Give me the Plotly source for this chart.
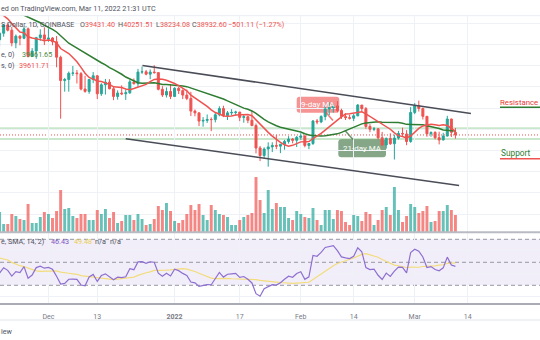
import pandas as pd
import plotly.graph_objects as go

W, H = 540, 340

# ---------------- data (BTC/USD daily, COINBASE) ----------------
start_date = "2021-11-19"
end_date = "2022-03-11"
opens = [56900, 58120, 59700, 58700, 56300, 57570, 57180, 58960, 53730, 54760, 57290, 57810,
         56990, 57230, 56510, 53600, 49200, 49400, 50580, 50620, 50500, 47600, 47150, 49400,
         50100, 46700, 48400, 48900, 47650, 46200, 46850, 46700, 46900, 48950, 48600, 50800,
         50850, 50400, 50800, 50700, 47550, 46470, 47140, 46200, 47730, 47300, 46450, 45830,
         43430, 43100, 41550, 41680, 41860, 41830, 42740, 43920, 42590, 43100, 43180, 43250,
         42250, 42380, 41700, 40700, 36470, 35050, 36280, 36680, 36960, 36820, 37170, 37710,
         38170, 37920, 38480, 38740, 36950, 37320, 41570, 41400, 42410, 43850, 44080, 44400,
         43550, 42400, 42200, 42080, 42550, 44570, 43900, 40540, 40000, 40100, 38400, 37050,
         38280, 37280, 38350, 39220, 39120, 37700, 43180, 44420, 43920, 42450, 39150, 39400,
         38420, 37990, 38730, 41940, 39431.40]
highs = [58370, 59860, 60000, 59300, 57880, 57740, 59400, 59200, 55320, 57440, 58870, 59250,
         59050, 57400, 57600, 53900, 49700, 50900, 51950, 51200, 50800, 50100, 49500, 50800,
         50200, 48700, 49500, 49450, 48000, 47350, 48300, 47500, 49350, 49600, 51400, 51850,
         51200, 51300, 52100, 50700, 48150, 47900, 48550, 47950, 47990, 47550, 47500, 47070,
         43750, 43150, 42300, 42800, 42250, 43100, 44350, 44450, 43450, 43800, 43500, 43250,
         42700, 42580, 43500, 41100, 36850, 36600, 37550, 37550, 38950, 37250, 38000, 38700,
         38350, 38750, 39250, 38850, 37400, 41750, 41950, 42650, 44500, 45100, 44800, 45300,
         43900, 43000, 42750, 42900, 44770, 44570, 44200, 40980, 40450, 40150, 39500, 38450,
         39250, 39000, 39700, 40300, 39850, 44200, 44950, 45400, 44100, 42500, 39600, 39650,
         39550, 39350, 42550, 42000, 40251.51]
lows = [55600, 57470, 58470, 55660, 55300, 55850, 57000, 53570, 53650, 53310, 56700, 55880,
        56500, 55850, 51700, 42000, 47100, 47100, 50060, 48650, 47350, 46900, 46700, 48700,
        45700, 46300, 46550, 47550, 45500, 45600, 46450, 45550, 46650, 48450, 47950, 50450,
        50200, 49450, 50500, 47350, 46100, 46000, 45700, 46200, 46650, 45700, 45500, 42500,
        42450, 40600, 40500, 41200, 39650, 41300, 42450, 42300, 41750, 42650, 42600, 41550,
        41250, 41150, 40600, 35450, 34000, 34600, 32950, 35700, 36250, 35500, 36150, 37300,
        37350, 36650, 38000, 36600, 36250, 37050, 40950, 41150, 41700, 42700, 43150, 43200,
        41950, 41750, 41850, 41550, 42450, 43350, 40100, 39450, 39650, 38050, 36800, 36350,
        37050, 34300, 38050, 38600, 37000, 37450, 42850, 43350, 41850, 38600, 38600, 38100,
        37150, 37900, 38650, 38550, 38234.08]
closes = [58120, 59700, 58700, 56300, 57570, 57180, 58960, 53730, 54760, 57290, 57810, 56990,
          57230, 56510, 53600, 49200, 49400, 50580, 50620, 50500, 47600, 47150, 49400, 50100,
          46700, 48400, 48900, 47650, 46200, 46850, 46700, 46900, 48950, 48600, 50800, 50850,
          50400, 50800, 50700, 47550, 46470, 47140, 46200, 47730, 47300, 46450, 45830, 43430,
          43100, 41550, 41680, 41860, 41830, 42740, 43920, 42590, 43100, 43180, 43250, 42250,
          42380, 41700, 40700, 36470, 35050, 36280, 36680, 36960, 36820, 37170, 37710, 38170,
          37920, 38480, 38740, 36950, 37320, 41570, 41400, 42410, 43850, 44080, 44400, 43550,
          42400, 42200, 42080, 42550, 44570, 43900, 40540, 40000, 40100, 38400, 37050, 38280,
          37280, 38350, 39220, 39120, 37700, 43180, 44420, 43920, 42450, 39150, 39400, 38420,
          37990, 38730, 41940, 39431.40, 38932.60]
# volume in thousand BTC
volumes = [20, 8, 8, 18, 16, 13, 12, 28, 9, 9, 15, 20, 18, 14, 21, 42, 23, 24, 16, 14,
           18, 18, 12, 12, 22, 18, 23, 14, 20, 9, 11, 17, 17, 12, 18, 13, 7, 8, 13, 26,
           22, 29, 21, 11, 9, 12, 18, 27, 22, 28, 17, 12, 27, 22, 18, 17, 15, 7, 7, 12,
           15, 17, 19, 55, 32, 19, 42, 23, 29, 25, 25, 14, 12, 21, 18, 15, 14, 24, 12, 7,
           22, 22, 13, 22, 21, 10, 7, 17, 16, 11, 20, 18, 7, 12, 22, 25, 17, 45, 22, 10,
           16, 28, 25, 19, 21, 26, 10, 11, 21, 21, 27, 22, 17]
# earlier closes (1 Oct - 18 Nov 2021, off-screen) that warm up the MA / RSI
warmup_closes = [48150, 47650, 48200, 49230, 51490, 55340, 53800, 53950, 54950, 54680, 57490,
                 56000, 57370, 57360, 61670, 60880, 61530, 62010, 64280, 66000, 62210, 60690,
                 61300, 60860, 63080, 60330, 58460, 60590, 62250, 61890, 61320, 61000, 63230,
                 62940, 61440, 61010, 61530, 63300, 67550, 66950, 64930, 64830, 64160, 64400,
                 65500, 63600, 60340, 60380, 56890]

tick_dates = ["2021-12-01", "2021-12-13", "2022-01-01", "2022-01-17", "2022-02-01",
              "2022-02-14", "2022-03-01", "2022-03-14", "2022-04-01"]
tick_labels = ["Dec", "13", "<b>2022</b>", "17", "Feb", "14", "Mar", "14", "Apr"]

# channel drawings: (days since first candle, price)
chan_upper_x = [35.1, 115.8]
chan_upper_p = [52040, 42980]
chan_lower_x = [31.0, 112.9]
chan_lower_p = [38230, 29400]
level_lines = [40190, 38170]

# ---------------- derived ----------------
dates = pd.date_range(start_date, end_date, freq="D")
idx = list(range(len(dates)))
t0 = dates[0]
tick_pos = [(pd.Timestamp(d) - t0).days for d in tick_dates]

allc = pd.Series(warmup_closes + closes, dtype=float)
n_w = len(warmup_closes)
ma9 = allc.rolling(9).mean().iloc[n_w:].tolist()
ma21 = allc.rolling(21).mean().iloc[n_w:].tolist()
delta = allc.diff()
gain = delta.clip(lower=0)
loss = -delta.clip(upper=0)
ag = gain.ewm(alpha=1 / 14, adjust=False).mean()
al = loss.ewm(alpha=1 / 14, adjust=False).mean()
rsi_all = 100 - 100 / (1 + ag / al)
rsi_ma_all = rsi_all.rolling(14).mean()
rsi = rsi_all.iloc[n_w:].tolist()
rsi_ma = rsi_ma_all.iloc[n_w:].tolist()

UP, DOWN = "#26a69a", "#ef5350"
vol_colors = ["rgba(38,166,154,0.7)" if c >= o else "rgba(239,83,80,0.7)"
              for o, c in zip(opens, closes)]

# pixel helpers for layout
def PX(x):
    return x / W

def PY(y):
    return 1 - y / H

PRICE_TOP, PRICE_BOT = 15.7, 232.0
RSI_TOP, RSI_BOT = 233.0, 303.4
px_per_k = 5.3
p_ref, y_ref = 40000, 129.3
price_range = [p_ref - (PRICE_BOT - y_ref) / px_per_k * 1000,
               p_ref + (y_ref - PRICE_TOP) / px_per_k * 1000]
rsi_per_px = 1 / 1.15
rsi_range = [50 - (RSI_BOT - 262.3) * rsi_per_px, 50 + (262.3 - RSI_TOP) * rsi_per_px]
x_range = [0.1, 0.1 + W / 4.07]

fig = go.Figure()
fig.add_trace(go.Bar(x=idx, y=volumes, marker=dict(color=vol_colors, line=dict(width=0)),
                     width=0.72, yaxis="y", hoverinfo="skip"))
fig.add_trace(go.Candlestick(x=idx, open=opens, high=highs, low=lows, close=closes,
                             increasing=dict(line=dict(color=UP, width=1), fillcolor=UP),
                             decreasing=dict(line=dict(color=DOWN, width=1), fillcolor=DOWN),
                             whiskerwidth=0, yaxis="y2"))
fig.add_trace(go.Scatter(x=idx, y=ma21, mode="lines", line=dict(color="#2e7d32", width=1.5),
                         yaxis="y2"))
fig.add_trace(go.Scatter(x=idx, y=ma9, mode="lines", line=dict(color="#ef5350", width=1.5),
                         yaxis="y2"))
fig.add_trace(go.Scatter(x=chan_upper_x, y=chan_upper_p, mode="lines",
                         line=dict(color="#4a4d57", width=1.6), yaxis="y2"))
fig.add_trace(go.Scatter(x=chan_lower_x, y=chan_lower_p, mode="lines",
                         line=dict(color="#4a4d57", width=1.6), yaxis="y2"))
fig.add_trace(go.Scatter(x=idx, y=rsi_ma, mode="lines", line=dict(color="#f3dc7c", width=1.2),
                         yaxis="y3"))
fig.add_trace(go.Scatter(x=idx, y=rsi, mode="lines", line=dict(color="#8e6fd0", width=1.2),
                         yaxis="y3"))

shapes = []
# RSI band and levels
shapes.append(dict(type="rect", xref="paper", yref="y3", x0=0, x1=1, y0=30, y1=70,
                   fillcolor="rgba(126,87,194,0.1)", line=dict(width=0), layer="below"))
for lv in (70, 50, 30):
    shapes.append(dict(type="line", xref="paper", yref="y3", x0=0, x1=1, y0=lv, y1=lv,
                       line=dict(color="#9598a1", width=1, dash="4px,3px"), layer="below"))
# horizontal levels
for lv in level_lines:
    shapes.append(dict(type="line", xref="paper", yref="y2", x0=0, x1=1, y0=lv, y1=lv,
                       line=dict(color="rgba(76,175,80,0.3)", width=2), layer="between"))
shapes.append(dict(type="line", xref="paper", yref="y2", x0=0, x1=1, y0=closes[-1], y1=closes[-1],
                   line=dict(color="#ef5350", width=1, dash="1px,2px"), layer="between"))
# pane separators
shapes.append(dict(type="line", xref="paper", yref="paper", x0=0, x1=1, y0=PY(232.3), y1=PY(232.3),
                   line=dict(color="#b8bbc2", width=2)))
shapes.append(dict(type="line", xref="paper", yref="paper", x0=0, x1=1, y0=PY(15.7), y1=PY(15.7),
                   line=dict(color="#e9ecf2", width=1)))
shapes.append(dict(type="line", xref="paper", yref="paper", x0=0, x1=1, y0=PY(320), y1=PY(320),
                   line=dict(color="#f0f2f6", width=2)))


def rrect(x0, y0, x1, y1, r):
    rx, ry = r / W, r / H
    a0, b0, a1, b1 = PX(x0), PY(y1), PX(x1), PY(y0)
    return (f"M {a0+rx},{b0} L {a1-rx},{b0} Q {a1},{b0} {a1},{b0+ry} L {a1},{b1-ry} "
            f"Q {a1},{b1} {a1-rx},{b1} L {a0+rx},{b1} Q {a0},{b1} {a0},{b1-ry} "
            f"L {a0},{b0+ry} Q {a0},{b0} {a0+rx},{b0} Z")


shapes.append(dict(type="path", xref="paper", yref="paper", path=rrect(296.7, 96.7, 339.3, 112.7, 3),
                   fillcolor="rgba(239,83,80,0.62)", line=dict(width=0), layer="between"))
shapes.append(dict(type="line", xref="paper", yref="paper", x0=PX(326), y0=PY(112.5), x1=PX(333),
                   y1=PY(120.5), line=dict(color="rgba(239,83,80,0.8)", width=1.5)))
shapes.append(dict(type="path", xref="paper", yref="paper", path=rrect(338.3, 139.3, 386, 157.3, 3),
                   fillcolor="rgba(67,120,70,0.65)", line=dict(width=0), layer="between"))
shapes.append(dict(type="line", xref="paper", yref="paper", x0=PX(353), y0=PY(139.5), x1=PX(345),
                   y1=PY(130.5), line=dict(color="rgba(67,120,70,0.8)", width=1.5)))
# Resistance / Support underlines
shapes.append(dict(type="line", xref="paper", yref="paper", x0=PX(500), x1=1, y0=PY(107.3), y1=PY(107.3),
                   line=dict(color="#2e7d32", width=1.6)))
shapes.append(dict(type="line", xref="paper", yref="paper", x0=PX(500), x1=1, y0=PY(158.7), y1=PY(158.7),
                   line=dict(color="#ef5350", width=1.6)))

FONT = "Roboto"
ann = []


def txt(x, y, s, color, size=7, anchor="left"):
    ann.append(dict(xref="paper", yref="paper", x=PX(x), y=PY(y), text=s, showarrow=False,
                    xanchor=anchor, yanchor="middle", font=dict(family=FONT, size=size, color=color)))


GREY = "#50535e"
RED = "#ef5350"
txt(-1, 8.3, "ed on TradingView.com, Mar 11, 2022 21:31 UTC", GREY, 7.2)
txt(-1, 25, "S Dollar, 1D, COINBASE", GREY, 7.2)
for xx, lab, val in [(78, "O", "39431.40"), (116, "H", "40251.51"), (154, "L", "38234.08"),
                     (190, "C", "38932.60")]:
    txt(xx, 25, f"<span style='color:{GREY}'>{lab}</span>{val}", RED, 7.2)
txt(226, 25, "\u2212501.11 (\u22121.27%)", RED, 7.2)
txt(-1, 54.5, "e, 0)", GREY, 7.2)
txt(19.5, 54.5, "39661.65", "#4c8c3f", 7.2)
txt(-1, 66, "s, 0)", GREY, 7.2)
txt(16.5, 66, "39611.71", RED, 7.2)
txt(-1, 241.5, "e, SMA, 14, 2)", GREY, 7.2)
txt(48.5, 241.5, "46.43", "#7e57c2", 7.2)
txt(71.5, 241.5, "49.48", "#e9cf55", 7.2)
txt(92.5, 241.5, "n/a", GREY, 7.2)
txt(107.5, 241.5, "n/a", GREY, 7.2)
txt(-1, 331, "iew", GREY, 7.2)
txt(318, 104.7, "9-day MA", "white", 8, "center")
txt(362.2, 148.3, "21-day MA", "white", 8, "center")
txt(498, 102.7, "Resistance", "#e53935", 7.8)
txt(499, 153.3, "Support", "#2e7d32", 8.3)

fig.update_layout(
    width=W, height=H, margin=dict(l=0, r=0, t=0, b=0),
    paper_bgcolor="white", plot_bgcolor="white", showlegend=False,
    shapes=shapes, annotations=ann,
    xaxis=dict(range=x_range, anchor="y3", tickvals=tick_pos, ticktext=tick_labels,
               showgrid=True, gridcolor="#eef1f6", gridwidth=1, zeroline=False,
               showline=True, linecolor="#a9acb5", linewidth=2, ticks="",
               ticklabelstandoff=5,
               tickfont=dict(family=FONT, size=7, color="#787b86"),
               rangeslider=dict(visible=False)),
    yaxis=dict(domain=[PY(PRICE_BOT), PY(PRICE_TOP)], range=[0, PRICE_BOT - PRICE_TOP],
               showgrid=False, zeroline=False, showticklabels=False),
    yaxis2=dict(overlaying="y", range=price_range, dtick=4000, tick0=0, showgrid=True,
                gridcolor="#eef1f6", zeroline=False, showticklabels=False),
    yaxis3=dict(domain=[PY(RSI_BOT), PY(RSI_TOP)], range=rsi_range, tickvals=[20, 40, 60],
                showgrid=True, gridcolor="#eef1f6", zeroline=False, showticklabels=False),
)
fig.write_html("out.html")
